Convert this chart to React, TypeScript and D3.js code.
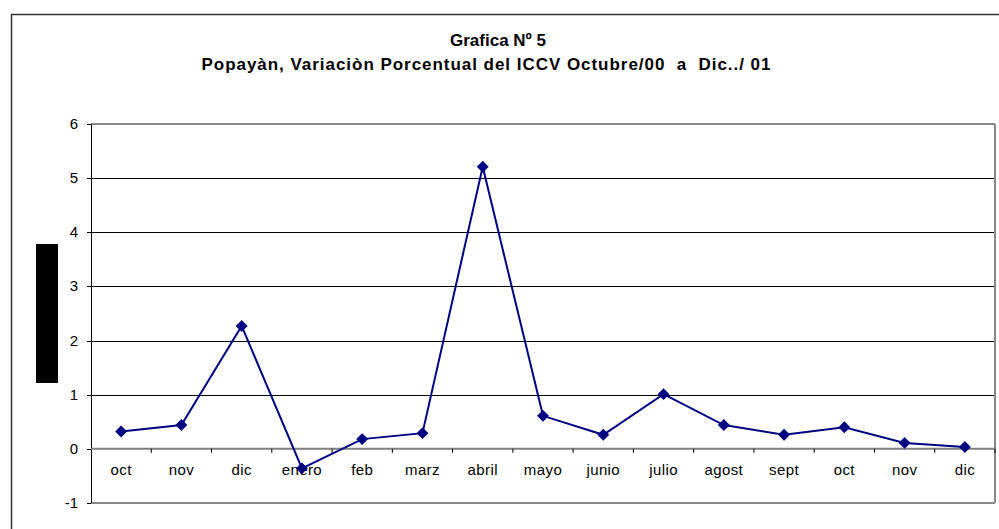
import React from 'react'
import * as d3 from 'd3'

const categories = ['oct', 'nov', 'dic', 'enero', 'feb', 'marz', 'abril', 'mayo', 'junio', 'julio', 'agost', 'sept', 'oct', 'nov', 'dic']
const variacion = [0.32, 0.44, 2.27, -0.36, 0.18, 0.29, 5.21, 0.61, 0.26, 1.01, 0.44, 0.26, 0.40, 0.11, 0.035]
const yTicks = [-1, 0, 1, 2, 3, 4, 5, 6]
const titleLines = ['Grafica Nº 5', 'Popayàn, Variaciòn Porcentual del ICCV Octubre/00  a  Dic../ 01']

const W = 999
const H = 529
const plot = { left: 91, right: 995, top: 124, bottom: 503 }

export default function App() {
    const x = d3.scaleBand<number>()
        .domain(categories.map((_, i) => i))
        .range([plot.left, plot.right])
    const y = d3.scaleLinear().domain([-1, 6]).range([plot.bottom, plot.top])

    const line = d3.line<number>()
        .x((_, i) => (x(i) as number) + x.bandwidth() / 2)
        .y(d => y(d))

    const diamond = d3.symbol().type(d3.symbolDiamond2).size(90)()
    const font = 'Arial, "Liberation Sans", sans-serif'
    // tick positions on the category axis are at band edges
    const edges = categories.map((_, i) => x(i) as number).concat([plot.right])

    return (
        <svg width={W} height={H} style={{ position: 'absolute', left: 0, top: 0, background: '#fff' }}>
            <rect x={11.5} y={14.5} width={1000} height={530} fill="#fff" stroke="#333" strokeWidth={1.5} />

            <text x={498} y={46} textAnchor="middle" fontFamily={font} fontWeight="bold" fontSize={17}>{titleLines[0]}</text>
            <text x={486} y={70} textAnchor="middle" fontFamily={font} fontWeight="bold" fontSize={17}
                textLength={569} lengthAdjust="spacing" style={{ whiteSpace: 'pre' }}>{titleLines[1]}</text>

            {/* grid */}
            {yTicks.filter(t => t > 0 && t < 6).map(t => (
                <line key={t} x1={plot.left} x2={plot.right} y1={Math.round(y(t)) + 0.5} y2={Math.round(y(t)) + 0.5} stroke="#000" strokeWidth={1} />
            ))}
            {/* plot border */}
            <line x1={plot.left} x2={plot.right} y1={plot.top} y2={plot.top} stroke="#888" strokeWidth={2} />
            <line x1={plot.right} x2={plot.right} y1={plot.top} y2={plot.bottom} stroke="#888" strokeWidth={2} />
            <line x1={plot.left} x2={plot.right} y1={plot.bottom} y2={plot.bottom} stroke="#888" strokeWidth={2} />

            {/* y axis */}
            <line x1={plot.left + 0.5} x2={plot.left + 0.5} y1={plot.top} y2={plot.bottom} stroke="#000" strokeWidth={1} />
            {yTicks.map(t => (
                <g key={t}>
                    <line x1={plot.left - 4} x2={plot.left} y1={Math.round(y(t)) + 0.5} y2={Math.round(y(t)) + 0.5} stroke="#000" />
                    <text x={78} y={y(t) + 5} textAnchor="end" fontFamily={font} fontSize={15}>{t}</text>
                </g>
            ))}

            {/* zero axis */}
            <line x1={plot.left} x2={plot.right} y1={y(0)} y2={y(0)} stroke="#808080" strokeWidth={2} />
            {edges.slice(1).map((e, i) => (
                <line key={i} x1={e} x2={e} y1={y(0)} y2={y(0) + 4} stroke="#000" strokeWidth={1} />
            ))}
            {categories.map((c, i) => (
                <text key={i} x={(x(i) as number) + x.bandwidth() / 2} y={y(0) + 26} textAnchor="middle"
                    fontFamily={font} fontSize={15} letterSpacing={0.4}>{c}</text>
            ))}

            <rect x={36} y={244} width={22} height={139} fill="#000" />

            <path d={line(variacion) || ''} fill="none" stroke="#000080" strokeWidth={2} />
            {variacion.map((v, i) => (
                <path key={i} d={diamond || ''} fill="#000080"
                    transform={`translate(${(x(i) as number) + x.bandwidth() / 2},${y(v)})`} />
            ))}
        </svg>
    )
}
